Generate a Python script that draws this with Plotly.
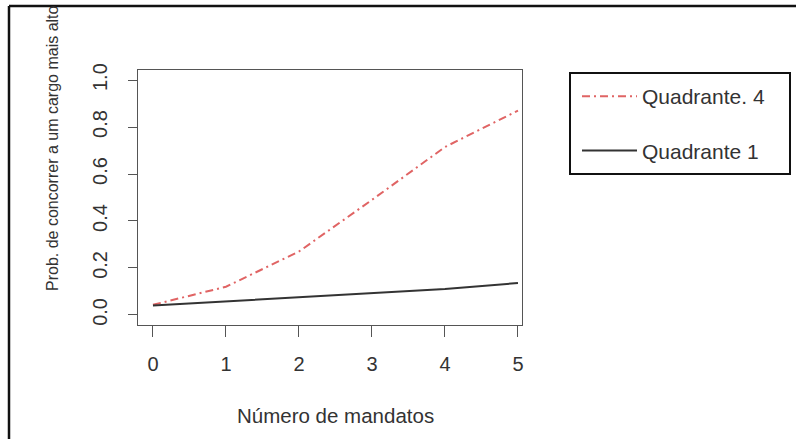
import plotly.graph_objects as go

mandatos = [0, 1, 2, 3, 4, 5]
quadrante4 = [0.043, 0.12, 0.27, 0.49, 0.715, 0.87]
quadrante1 = [0.040, 0.057, 0.075, 0.092, 0.11, 0.136]
x_ticks = [0, 1, 2, 3, 4, 5]
y_ticks = [0.0, 0.2, 0.4, 0.6, 0.8, 1.0]
y_tick_labels = ["0.0", "0.2", "0.4", "0.6", "0.8", "1.0"]

L, R, T, B = 138, 274, 70, 114
W, H = 796, 439
pw, ph = W - L - R, H - T - B

def px(x):
    return (x - L) / pw

def py(y):
    return (H - B - y) / ph

font = "Liberation Sans, Arial, sans-serif"
txt = "#333333"
axc = "#555555"
fs = 20

fig = go.Figure()
fig.add_trace(go.Scatter(x=mandatos, y=quadrante4, mode="lines", name="Quadrante. 4",
                         legendgroup="a",
                         line=dict(color="#e06464", width=2, dash="8px,4px,2px,4px")))
fig.add_trace(go.Scatter(x=mandatos, y=quadrante1, mode="lines", name="Quadrante 1",
                         legendgroup="b",
                         line=dict(color="#333333", width=2)))

fig.update_layout(
    width=W, height=H,
    margin=dict(l=L, r=R, t=T, b=B),
    paper_bgcolor="white", plot_bgcolor="white",
    font=dict(family=font, size=fs, color=txt),
    showlegend=True,
    legend=dict(x=px(577), y=py(76), xanchor="left", yanchor="top",
                bgcolor="rgba(0,0,0,0)", borderwidth=0,
                tracegroupgap=24, font=dict(size=21, color=txt),
                itemwidth=55),
    xaxis=dict(range=[-0.205, 5.055], tickvals=x_ticks, ticktext=[str(v) for v in x_ticks],
               showgrid=False, zeroline=False, showline=True, mirror=True,
               linecolor=axc, linewidth=1, ticks="outside", ticklen=11, tickcolor=axc,
               tickfont=dict(size=fs, color=txt), ticklabelstandoff=10),
    yaxis=dict(range=[-0.043, 1.043], tickvals=y_ticks, ticktext=y_tick_labels,
               showgrid=False, zeroline=False, showline=True, mirror=True,
               linecolor=axc, linewidth=1, ticks="outside", ticklen=9, tickcolor=axc,
               tickangle=-90, tickfont=dict(size=fs, color=txt), ticklabelstandoff=13),
    annotations=[
        dict(text="Número de mandatos", xref="paper", yref="paper", x=px(335), y=py(415),
             showarrow=False, font=dict(size=20.5, color=txt), xanchor="center", yanchor="middle"),
        dict(text="Prob. de concorrer a um cargo mais alto", xref="paper", yref="paper",
             x=px(52), y=py(148), textangle=-90, showarrow=False,
             font=dict(size=16, color=txt), xanchor="center", yanchor="middle"),
    ],
    shapes=[
        dict(type="rect", xref="paper", yref="paper", x0=px(570), x1=px(790), y0=py(174), y1=py(73),
             line=dict(color="#111111", width=2)),
        dict(type="line", xref="paper", yref="paper", x0=px(9), x1=px(800), y0=py(6), y1=py(6),
             line=dict(color="#111111", width=2.5)),
        dict(type="line", xref="paper", yref="paper", x0=px(9), x1=px(9), y0=py(6), y1=py(445),
             line=dict(color="#111111", width=2.5)),
    ],
)

fig.write_html("out.html", config={"displayModeBar": False},
               post_script="document.body.style.margin='0';document.body.style.overflow='hidden';")
